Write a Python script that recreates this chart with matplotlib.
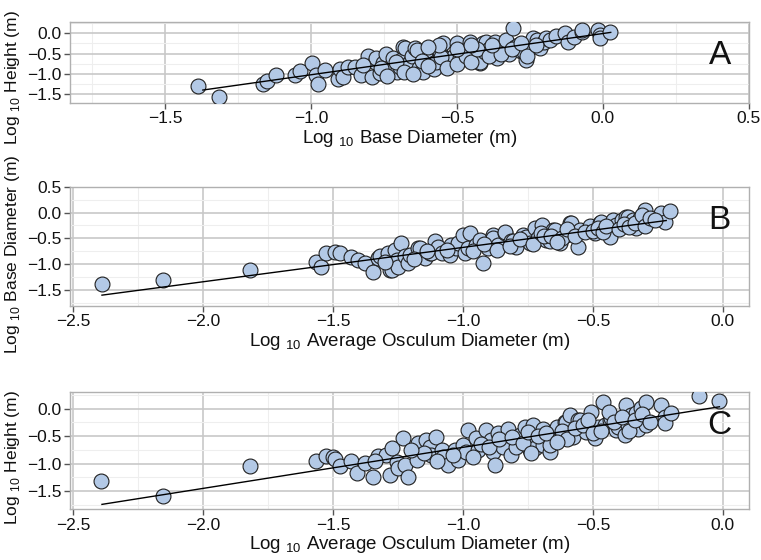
import matplotlib
matplotlib.use("Agg")
import matplotlib.pyplot as plt
from matplotlib.ticker import MultipleLocator, FuncFormatter

plt.rcParams['font.family'] = ['Liberation Sans', 'DejaVu Sans']
plt.rcParams['mathtext.fontset'] = 'custom'
plt.rcParams['mathtext.rm'] = 'Liberation Sans'

# ---------------- Panel A: log10 base diameter vs log10 height ----------------
a_base = [-1.387, -1.315, -1.163, -1.152, -1.12, -1.054, -1.038, -0.995, -0.981, -0.975,
          -0.952, -0.906, -0.90, -0.89, -0.872, -0.85, -0.827, -0.804, -0.79, -0.78,
          -0.776, -0.764, -0.752, -0.742, -0.73, -0.72, -0.705, -0.695, -0.69, -0.684,
          -0.678, -0.67, -0.66, -0.655, -0.644, -0.638, -0.63, -0.615, -0.615, -0.60,
          -0.59, -0.58, -0.58, -0.57, -0.564, -0.558, -0.547, -0.54, -0.524, -0.524,
          -0.51, -0.50, -0.49, -0.48, -0.467, -0.46, -0.455, -0.455, -0.44, -0.433,
          -0.42, -0.421, -0.41, -0.40, -0.404, -0.39, -0.376, -0.37, -0.364, -0.353,
          -0.34, -0.33, -0.32, -0.307, -0.30, -0.29, -0.28, -0.27, -0.262, -0.25,
          -0.24, -0.227, -0.216, -0.20, -0.193, -0.18, -0.16, -0.13, -0.12, -0.10,
          -0.073, -0.07, -0.016, -0.01, -0.01, 0.024, -0.82, -0.76, -0.74, -0.71,
          -0.68, -0.65, -0.62, -0.60, -0.555, -0.535, -0.50, -0.47, -0.45, -0.43,
          -0.39, -0.35, -0.31, -0.28, -0.26, -0.23, -0.50, -0.56, -0.38, -0.45,
          -0.60]
a_height = [-1.30, -1.58, -1.24, -1.18, -1.04, -1.04, -0.93, -0.74, -1.03, -1.26,
            -0.91, -1.14, -0.87, -1.08, -0.83, -0.83, -1.03, -0.56, -1.08, -0.70,
            -0.62, -0.99, -0.74, -0.50, -0.87, -0.62, -0.95, -0.83, -0.66, -0.33,
            -0.37, -0.78, -0.70, -0.55, -0.37, -0.41, -0.85, -0.91, -0.95, -0.60,
            -0.48, -0.74, -0.87, -0.70, -0.41, -0.46, -0.25, -0.62, -0.70, -0.74,
            -0.55, -0.25, -0.62, -0.45, -0.46, -0.35, -0.21, -0.58, -0.54, -0.54,
            -0.74, -0.70, -0.25, -0.21, -0.46, -0.38, -0.37, -0.21, -0.62, -0.37,
            -0.30, -0.17, -0.50, 0.12, -0.33, -0.29, -0.45, -0.46, -0.66, -0.30,
            -0.12, -0.17, -0.37, -0.22, -0.12, -0.17, -0.08, 0.00, -0.21, -0.10,
            0.04, 0.08, 0.08, -0.04, -0.12, 0.02, -0.78, -0.85, -1.05, -0.72,
            -0.95, -1.00, -0.68, -0.80, -0.58, -0.85, -0.75, -0.55, -0.70, -0.40,
            -0.55, -0.52, -0.40, -0.23, -0.55, -0.30, -0.40, -0.30, -0.28, -0.30,
            -0.35]
a_fit_x = [-1.37, 0.027]
a_fit_y = [-1.40, 0.02]

# ---------------- Panel B: log10 osculum diameter vs log10 base diameter ----------------
b_osc = [-2.39, -2.154, -1.82, -1.567, -1.545, -1.528, -1.493, -1.474, -1.43, -1.404,
         -1.378, -1.346, -1.327, -1.32, -1.288, -1.282, -1.275, -1.263, -1.256, -1.25,
         -1.237, -1.224, -1.211, -1.205, -1.173, -1.167, -1.147, -1.128, -1.122, -1.109,
         -1.096, -1.083, -1.051, -1.045, -1.026, -1.019, -1.0, -0.993, -0.98, -0.974,
         -0.949, -0.936, -0.923, -0.904, -0.885, -0.885, -0.865, -0.84, -0.84, -0.814,
         -0.808, -0.795, -0.77, -0.756, -0.743, -0.724, -0.711, -0.698, -0.679, -0.666,
         -0.654, -0.647, -0.628, -0.602, -0.59, -0.583, -0.558, -0.551, -0.551, -0.513,
         -0.513, -0.494, -0.474, -0.468, -0.436, -0.436, -0.423, -0.41, -0.39, -0.372,
         -0.365, -0.352, -0.346, -0.333, -0.32, -0.301, -0.295, -0.237, -0.224, -0.205,
         -1.30, -1.19, -1.14, -1.06, -0.96, -0.92, -0.87, -0.82, -0.78, -0.73,
         -0.70, -0.69, -0.66, -0.62, -0.60, -0.57, -0.53, -0.50, -0.48, -0.46,
         -0.45, -0.40, -0.38, -0.36, -0.34, -0.31, -0.30, -0.28, -0.26, -0.64]
b_base = [-1.38, -1.30, -1.11, -0.95, -1.06, -0.79, -0.76, -0.79, -0.865, -0.92,
          -0.97, -1.16, -0.88, -0.85, -0.79, -1.11, -1.11, -0.72, -0.92, -1.06,
          -0.59, -0.85, -0.98, -0.82, -0.69, -0.69, -0.88, -0.79, -0.79, -0.56,
          -0.66, -0.79, -0.82, -0.63, -0.69, -0.59, -0.43, -0.79, -0.69, -0.40,
          -0.63, -0.53, -0.98, -0.69, -0.43, -0.50, -0.63, -0.40, -0.37, -0.56,
          -0.56, -0.66, -0.43, -0.465, -0.59, -0.30, -0.50, -0.24, -0.53, -0.56,
          -0.335, -0.335, -0.59, -0.43, -0.205, -0.205, -0.66, -0.37, -0.335, -0.30,
          -0.27, -0.40, -0.205, -0.175, -0.43, -0.465, -0.14, -0.24, -0.14, -0.08,
          -0.08, -0.205, -0.14, -0.30, -0.11, 0.05, -0.175, -0.01, -0.175, 0.02,
          -0.95, -0.90, -0.75, -0.72, -0.75, -0.60, -0.72, -0.65, -0.52, -0.60,
          -0.40, -0.45, -0.45, -0.50, -0.32, -0.45, -0.38, -0.35, -0.30, -0.38,
          -0.26, -0.32, -0.22, -0.28, -0.20, -0.05, -0.26, -0.10, -0.15, -0.58]
b_fit_x = [-2.39, -0.218]
b_fit_y = [-1.60, -0.155]

# ---------------- Panel C: log10 osculum diameter vs log10 height ----------------
c_osc = [-2.395, -2.154, -1.82, -1.567, -1.528, -1.50, -1.493, -1.474, -1.43, -1.41,
         -1.378, -1.346, -1.327, -1.295, -1.282, -1.275, -1.256, -1.25, -1.231, -1.224,
         -1.211, -1.179, -1.173, -1.141, -1.128, -1.122, -1.103, -1.083, -1.077, -1.058,
         -1.032, -1.019, -1.0, -0.987, -0.98, -0.949, -0.942, -0.91, -0.891, -0.885,
         -0.878, -0.865, -0.846, -0.827, -0.814, -0.795, -0.782, -0.763, -0.743, -0.73,
         -0.724, -0.724, -0.692, -0.692, -0.666, -0.666, -0.654, -0.64, -0.609, -0.602,
         -0.59, -0.577, -0.558, -0.551, -0.526, -0.506, -0.494, -0.481, -0.462, -0.455,
         -0.436, -0.43, -0.41, -0.404, -0.378, -0.372, -0.365, -0.352, -0.333, -0.327,
         -0.314, -0.301, -0.295, -0.295, -0.237, -0.224, -0.224, -0.198, -0.09, -0.015,
         -1.15, -1.10, -1.04, -0.96, -0.93, -0.90, -0.86, -0.81, -0.77, -0.75,
         -0.71, -0.68, -0.62, -0.60, -0.57, -0.54, -0.52, -0.50, -0.47, -0.44,
         -0.42, -0.39, -0.36, -0.34, -0.31, -0.28, -0.64, -0.74, -1.20, -1.34]
c_height = [-1.31, -1.59, -1.04, -0.95, -0.855, -0.87, -0.915, -1.05, -0.95, -1.16,
            -0.99, -1.25, -0.855, -0.84, -1.20, -0.72, -0.96, -1.08, -0.54, -1.02,
            -1.25, -0.93, -0.63, -0.57, -0.69, -0.84, -0.51, -0.75, -0.87, -1.02,
            -0.75, -0.93, -0.66, -0.78, -0.39, -0.54, -0.75, -0.39, -0.57, -0.78,
            -1.02, -0.45, -0.69, -0.36, -0.84, -0.69, -0.48, -0.33, -0.75, -0.30,
            -0.54, -0.72, -0.36, -0.66, -0.78, -0.66, -0.42, -0.33, -0.24, -0.24,
            -0.11, -0.51, -0.21, -0.205, -0.42, -0.055, -0.54, -0.33, 0.13, -0.30,
            -0.21, -0.175, -0.39, -0.33, -0.48, 0.07, -0.30, -0.11, -0.085, -0.36,
            0.01, -0.24, 0.13, -0.30, 0.07, -0.145, -0.265, -0.085, 0.23, 0.145,
            -0.80, -0.95, -0.85, -0.88, -0.65, -0.70, -0.55, -0.52, -0.62, -0.42,
            -0.50, -0.45, -0.40, -0.55, -0.35, -0.30, -0.20, -0.45, -0.40, -0.05,
            -0.25, -0.15, -0.40, -0.20, -0.10, -0.25, -0.60, -0.80, -0.75, -0.95]
c_fit_x = [-2.39, -0.013]
c_fit_y = [-1.74, 0.036]

panels = [
    dict(x=a_base, y=a_height, fx=a_fit_x, fy=a_fit_y, letter="A",
         xlabel=r"Log $_{\mathregular{10}}$ Base Diameter (m)",
         ylabel=r"Log $_{\mathregular{10}}$ Height (m)",
         rect=[0.092, 0.816, 0.892, 0.145], xlim=(-1.825, 0.5), ylim=(-1.72, 0.28),
         xticks=[-1.5, -1.0, -0.5, 0.0, 0.5], yticks=[0.0, -0.5, -1.0, -1.5],
         ly=0.58, ylab_y=0.31),
    dict(x=b_osc, y=b_base, fx=b_fit_x, fy=b_fit_y, letter="B",
         xlabel=r"Log $_{\mathregular{10}}$ Average Osculum Diameter (m)",
         ylabel=r"Log $_{\mathregular{10}}$ Base Diameter (m)",
         rect=[0.092, 0.4536, 0.892, 0.213], xlim=(-2.513, 0.1), ylim=(-1.81, 0.5),
         xticks=[-2.5, -2.0, -1.5, -1.0, -0.5, 0.0], yticks=[0.5, 0.0, -0.5, -1.0, -1.5],
         ly=0.715, ylab_y=0.43),
    dict(x=c_osc, y=c_height, fx=c_fit_x, fy=c_fit_y, letter="C",
         xlabel=r"Log $_{\mathregular{10}}$ Average Osculum Diameter (m)",
         ylabel=r"Log $_{\mathregular{10}}$ Height (m)",
         rect=[0.092, 0.0905, 0.892, 0.21], xlim=(-2.513, 0.1), ylim=(-1.83, 0.31),
         xticks=[-2.5, -2.0, -1.5, -1.0, -0.5, 0.0], yticks=[0.0, -0.5, -1.0, -1.5],
         ly=0.717, ylab_y=0.436),
]

fmt = FuncFormatter(lambda v, pos: ("%.1f" % v).replace("-", "\u2212"))

fig = plt.figure(figsize=(7.61, 5.6), dpi=100)

for p in panels:
    ax = fig.add_axes(p["rect"])
    ax.set_xlim(*p["xlim"])
    ax.set_ylim(*p["ylim"])
    ax.set_xticks(p["xticks"])
    ax.set_yticks(p["yticks"])
    ax.xaxis.set_minor_locator(MultipleLocator(0.25))
    ax.yaxis.set_minor_locator(MultipleLocator(0.25))
    ax.tick_params(which='minor', length=0)
    ax.grid(which='major', color='#c8c8c8', linewidth=1.2, zorder=0)
    ax.grid(which='minor', color='#eeeeee', linewidth=0.8, zorder=0)
    ax.set_axisbelow(True)
    for s in ax.spines.values():
        s.set_color('#b0b0b0')
        s.set_linewidth(1.0)
    ax.tick_params(which='major', direction='out', length=4, width=1, color='#555555',
                   labelsize=12.5, labelcolor='#111111', pad=2)
    ax.xaxis.set_major_formatter(fmt)
    ax.yaxis.set_major_formatter(fmt)
    ax.scatter(p["x"], p["y"], s=115, facecolor='#b3c9e6', edgecolor='#1f1f1f',
               linewidth=0.8, zorder=3)
    ax.plot(p["fx"], p["fy"], color='black', linewidth=1.0, zorder=4)
    ax.set_xlabel(p["xlabel"], fontsize=13.5, color='#111111', labelpad=1)
    ax.set_ylabel(p["ylabel"], fontsize=12.5, color='#111111')
    ax.yaxis.set_label_coords(-0.071, p["ylab_y"])
    ax.text(0.957, p["ly"], p["letter"], transform=ax.transAxes, fontsize=24,
            ha='center', va='center', color='#111111', zorder=5)

fig.savefig("out.png", dpi=100)
